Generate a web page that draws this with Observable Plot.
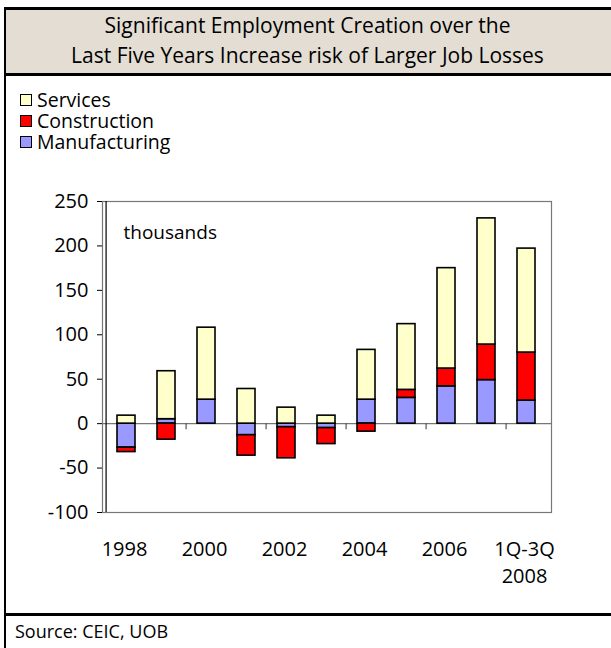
<!DOCTYPE html>
<html><head><meta charset="utf-8">
<script src="https://cdn.jsdelivr.net/npm/d3@7"></script>
<script src="https://cdn.jsdelivr.net/npm/@observablehq/plot@0.6"></script>
<style>
body{margin:0;background:#fff;font-family:"Open Sans", Lato, sans-serif;color:#000;}
#page{position:relative;width:611px;height:648px;overflow:hidden;background:#fff;}
#lborder{position:absolute;left:4px;top:7px;width:2px;height:641px;background:#000;}
#title{position:absolute;left:4px;top:7px;width:607px;height:69px;box-sizing:border-box;background:#E3DDD3;border-top:3px solid #000;border-bottom:3px solid #000;text-align:center;font-size:21px;line-height:30px;padding-top:0px;}
#legend{position:absolute;left:20px;top:89px;font-size:19.5px;}
.row{height:21px;line-height:21px;display:flex;align-items:center;}
.sw{width:10px;height:10px;border:1.5px solid #000;margin-right:5px;flex:none;}
#chart{position:absolute;left:6px;top:180px;}
#fline{position:absolute;left:4px;top:613px;width:607px;height:3px;background:#000;}
#source{position:absolute;left:15px;top:619px;font-size:18px;}
</style></head>
<body>
<div id="page">
  <div id="title">Significant Employment Creation over the<br>Last Five Years Increase risk of Larger Job Losses</div>
  <div id="legend"></div>
  <div id="chart"></div>
  <div id="lborder"></div>
  <div id="fline"></div>
  <div id="source">Source: CEIC, UOB</div>
</div>
<script>
const categories = ["1998","1999","2000","2001","2002","2003","2004","2005","2006","2007","1Q-3Q 2008"];
const xLabels = ["1998","","2000","","2002","","2004","","2006","","1Q-3Q\n2008"];
const manufacturing = [-27, 5, 27, -13, -4, -5, 27, 29, 42, 49, 26];
const construction  = [-5, -18, 0, -23, -35, -18, -9, 9, 20, 40, 54];
const services      = [9, 54, 81, 39, 18, 9, 56, 74, 113, 142, 117];
const seriesNames = ["Services", "Construction", "Manufacturing"];
const seriesColors = ["#FFFFCC", "#FF0000", "#9999FF"];
const yTicks = [-100, -50, 0, 50, 100, 150, 200, 250];
const boundaryTicks = ["2000","2002","2004","2006","1Q-3Q 2008"];

// legend
const legend = document.getElementById("legend");
seriesNames.forEach((n, i) => {
  const r = document.createElement("div"); r.className = "row";
  const s = document.createElement("div"); s.className = "sw"; s.style.background = seriesColors[i];
  const t = document.createElement("span"); t.textContent = n;
  r.appendChild(s); r.appendChild(t); legend.appendChild(r);
});

const data = [];
categories.forEach((c, i) => {
  data.push({cat: c, series: "Manufacturing", value: manufacturing[i]});
  data.push({cat: c, series: "Construction", value: construction[i]});
  data.push({cat: c, series: "Services", value: services[i]});
});

const W = 605, H = 435, mL = 96, mR = 60, mT = 21, mB = 103;
const step = (W - mL - mR) / categories.length;

const chart = Plot.plot({
  width: W, height: H,
  marginLeft: mL, marginRight: mR, marginTop: mT, marginBottom: mB,
  style: {fontFamily: "'Open Sans', Lato, sans-serif", fontSize: "20px", color: "#000", background: "white", overflow: "visible"},
  x: {domain: categories, paddingInner: 0.54, paddingOuter: 0.27, align: 0.5},
  y: {domain: [-100, 250]},
  color: {domain: seriesNames, range: seriesColors},
  marks: [
    Plot.frame({stroke: "#777", strokeWidth: 1.2}),
    Plot.ruleY([0], {stroke: "#777", strokeWidth: 1.2}),
    Plot.barY(data, {x: "cat", y: "value", fill: "series", stroke: "#000", strokeWidth: 1.6}),
    Plot.ruleX(boundaryTicks, {x: d => d, y1: 0, y2: -7, dx: -step / 2, stroke: "#555", strokeWidth: 1.2}),
    Plot.axisY({ticks: yTicks, tickSize: 5, tickPadding: 9, label: null, fontSize: 20, tickFormat: d => String(d)}),
    Plot.ruleX([categories[0]], {dx: -step / 2, stroke: "#000", strokeWidth: 1.2}),
    Plot.axisX({tickSize: 0, tickPadding: 24, label: null, fontSize: 20, lineHeight: 1.35, dx: -2,
      tickFormat: (d) => xLabels[categories.indexOf(d)]}),
    Plot.text(["thousands"], {frameAnchor: "top-left", dx: 21, dy: 24, textAnchor: "start", lineAnchor: "top", fontSize: 19})
  ]
});
document.getElementById("chart").appendChild(chart);
</script>
</body></html>
